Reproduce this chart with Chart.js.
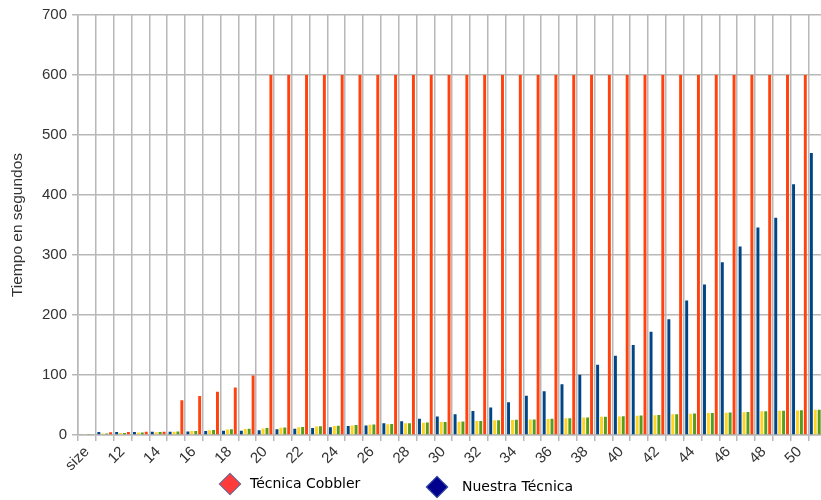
<!DOCTYPE html>
<html>
<head>
<meta charset="utf-8">
<script src="https://cdn.jsdelivr.net/npm/chart.js@4.4.1/dist/chart.umd.min.js"></script>
<style>
  html, body { margin: 0; padding: 0; background: #fff; overflow: hidden; }
  #wrap { position: relative; width: 832px; height: 500px; }
  .leg { position: absolute; font-family: "DejaVu Sans", sans-serif; font-size: 14px; color: #000; white-space: nowrap; }
  .leg i { position: absolute; width: 16px; height: 16px; transform: rotate(45deg); box-sizing: border-box; border: 1.5px solid; }
  .leg span { position: absolute; line-height: 16px; }
</style>
</head>
<body>
<div id="wrap">
  <canvas id="chart" width="832" height="500"></canvas>
</div>
<script>
const sizes = ['size', '11', '12', '13', '14', '15', '16', '17', '18', '19', '20',
  '21', '22', '23', '24', '25', '26', '27', '28', '29', '30',
  '31', '32', '33', '34', '35', '36', '37', '38', '39', '40',
  '41', '42', '43', '44', '45', '46', '47', '48', '49', '50', '51'];

const nuestra = [0, 5, 5, 5, 5.5, 5.5, 6, 6.5, 7, 7, 8,
  9.5, 10.5, 11.5, 13, 15, 16, 19.5, 23, 27, 31,
  34.5, 40, 46, 54.5, 65.5, 73, 84.5, 100.5, 117, 132,
  150, 172, 193, 224, 251, 288, 314, 346, 362, 418, 470];

const serieAmarilla = [1.5, 2.5, 3.5, 4, 4.5, 5.5, 6.5, 8, 9, 10, 11,
  12, 13, 14, 15, 16, 17, 18, 19.5, 20.5, 21.5,
  22, 23.3, 24.4, 25, 26, 26.7, 27.8, 29, 30.4, 31,
  32, 33, 34.4, 35.5, 36.5, 37, 38, 39.4, 40.3, 41, 42];

const serieVerde = [1.5, 2.5, 3.5, 4.2, 4.8, 5.8, 6.8, 8.3, 9.5, 10.5, 11.5,
  12.3, 13.2, 14.4, 15.4, 16.5, 17.5, 18.3, 19.5, 20.7, 21.7,
  22.3, 23.5, 24.6, 25.3, 26, 27, 28, 29.2, 30.5, 31.3,
  32.3, 33.3, 34.5, 35.7, 36.7, 37.3, 38.3, 39.6, 40.5, 41.3, 42.2];

const cobbler = [0, 4.5, 5, 5.5, 5.5, 58, 65, 72, 79, 99, 600,
  600, 600, 600, 600, 600, 600, 600, 600, 600, 600,
  600, 600, 600, 600, 600, 600, 600, 600, 600, 600,
  600, 600, 600, 600, 600, 600, 600, 600, 600, 600, 600];

// legend only lists two of the four series, with its own diamond colours
const legendItems = [
  { text: 'Técnica Cobbler', fill: '#ff3a3a', border: '#5a78a8', left: 218, top: 472, textLeft: 32 },
  { text: 'Nuestra Técnica', fill: '#00008e', border: '#4a68a8', left: 425, top: 475, textLeft: 37 }
];

const gridColor = '#b8b8b8';
const tickFont = { family: 'Liberation Sans', size: 15 };

new Chart(document.getElementById('chart').getContext('2d'), {
  type: 'bar',
  data: {
    labels: sizes,
    datasets: [
      { label: 'Nuestra Técnica', data: nuestra, backgroundColor: '#004586' },
      { label: 'Serie 3', data: serieAmarilla, backgroundColor: '#ffd320' },
      { label: 'Serie 4', data: serieVerde, backgroundColor: '#579d1c' },
      { label: 'Técnica Cobbler', data: cobbler, backgroundColor: '#ff420e' }
    ]
  },
  options: {
    responsive: false,
    animation: false,
    layout: { padding: { top: 15, right: 2, bottom: 0, left: 0 } },
    datasets: { bar: { categoryPercentage: 0.88, barPercentage: 0.75 } },
    plugins: { legend: { display: false }, tooltip: { enabled: false } },
    scales: {
      x: {
        grid: { color: gridColor, lineWidth: 1.5, tickLength: 6, offset: true },
        border: { color: gridColor, width: 1.5 },
        ticks: {
          autoSkip: false,
          maxRotation: 45,
          minRotation: 45,
          padding: 2,
          color: '#333',
          font: tickFont,
          callback: (v, i) => (i % 2 === 0 ? sizes[i] : '')
        },
        afterFit: s => { s.height = 65; }
      },
      y: {
        min: 0,
        max: 700,
        grid: { color: gridColor, lineWidth: 1.5, tickLength: 6 },
        border: { color: gridColor, width: 1.5 },
        ticks: { stepSize: 100, padding: 5, color: '#333', font: tickFont },
        title: {
          display: true,
          text: 'Tiempo en segundos',
          color: '#333',
          font: { family: 'Liberation Sans', size: 15.5 },
          padding: { top: 8, bottom: 0 }
        },
        afterFit: s => { s.width = 78; }
      }
    }
  }
});

const wrap = document.getElementById('wrap');
legendItems.forEach(it => {
  const d = document.createElement('div');
  d.className = 'leg';
  d.style.left = it.left + 'px';
  d.style.top = it.top + 'px';
  d.innerHTML = '<i style="left:4px;top:4px;background:' + it.fill + ';border-color:' + it.border + '"></i>' +
    '<span style="left:' + it.textLeft + 'px;top:3px">' + it.text + '</span>';
  wrap.appendChild(d);
});
</script>
</body>
</html>
